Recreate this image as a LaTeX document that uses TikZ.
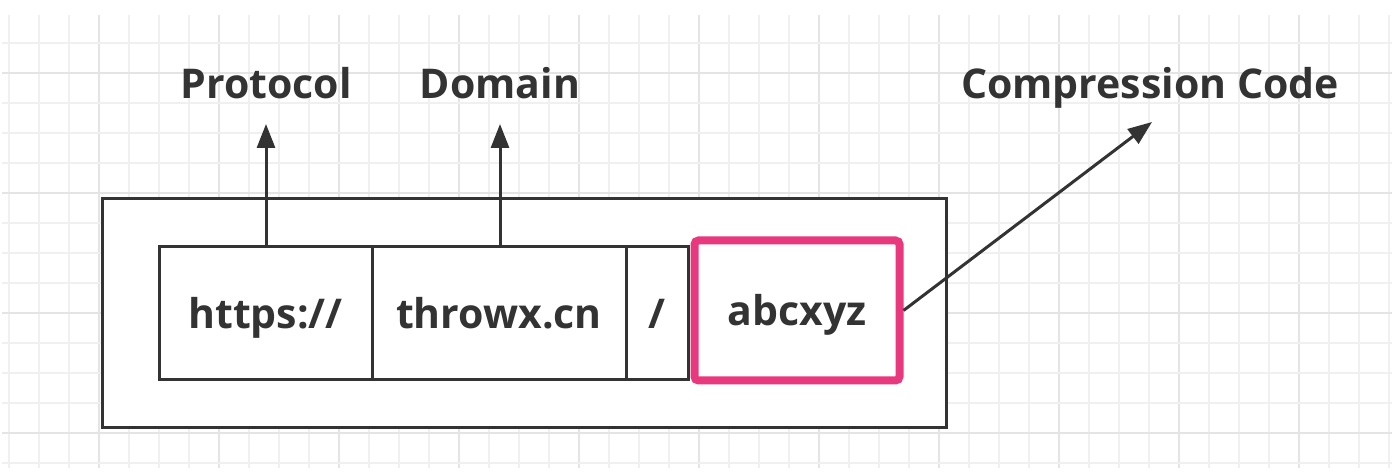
\documentclass[tikz,border=0pt]{standalone}
\usepackage{fontspec}
\setmainfont{Open Sans}
\usetikzlibrary{arrows.meta}
\definecolor{ink}{HTML}{333333}
\definecolor{hot}{HTML}{E8397F}
\definecolor{gridlight}{HTML}{F0F0F0}
\definecolor{griddark}{HTML}{E4E4E4}

\begin{document}
\begin{tikzpicture}[x=0.5pt, y=-0.5pt,
    cell/.style={rectangle, draw=ink, line width=1.5pt, fill=white, inner sep=0pt,
      minimum height=66.5pt, text height=17pt, text depth=1.5pt,
      font=\fontsize{20.5}{25}\selectfont\bfseries, text=ink},
    tag/.style={anchor=base, inner sep=0pt, font=\fontsize{20.5}{25}\selectfont\bfseries, text=ink},
    link/.style={draw=ink, line width=1.5pt, -{Triangle[length=12pt, width=9pt]}}]
    \useasboundingbox (0,0) rectangle (1396,474);

    % background grid
    \foreach \k in {0,...,46} {
      \pgfmathtruncatemacro{\major}{mod(\k,4)==3}
      \ifnum\major=1
        \draw[griddark, line width=1pt] (9+30*\k,15) -- (9+30*\k,468);
      \else
        \draw[gridlight, line width=1pt] (9+30*\k,15) -- (9+30*\k,468);
      \fi
    }
    \foreach \k in {1,...,15} {
      \pgfmathtruncatemacro{\major}{mod(\k,4)==2}
      \ifnum\major=1
        \draw[griddark, line width=1pt] (2,13+30*\k) -- (1392,13+30*\k);
      \else
        \draw[gridlight, line width=1pt] (2,13+30*\k) -- (1392,13+30*\k);
      \fi
    }

    \node[rectangle, draw=ink, line width=1.5pt, fill=white, minimum width=422pt, minimum height=114.5pt] (frame) at (524,313.5) {};

    \node[cell, minimum width=106.5pt] (proto) at (265.5,313.5) {https://};
    \node[cell, minimum width=127pt] (host) at (499,313.5) {throwx.cn};
    \node[cell, minimum width=31pt] (slash) at (657,313.5) {/};
    \node[cell, draw=hot, line width=4pt, rounded corners=2pt, minimum width=102.5pt, minimum height=70pt] (code) at (797,310.5) {abcxyz};

    \node[tag] (protolbl) at (266,99) {Protocol};
    \node[tag] (hostlbl) at (500,99) {Domain};
    \node[tag] (codelbl) at (1150,99) {Compression Code};

    \coordinate (protohead) at (266,124);
    \coordinate (hosthead) at (500,124);
    \coordinate (codehead) at (1152,122);

    \draw[link] (proto.north -| protohead) -- (protohead);
    \draw[link] (host.north -| hosthead) -- (hosthead);
    \draw[link] (code.east) -- (codehead);
  \end{tikzpicture}
\end{document}
